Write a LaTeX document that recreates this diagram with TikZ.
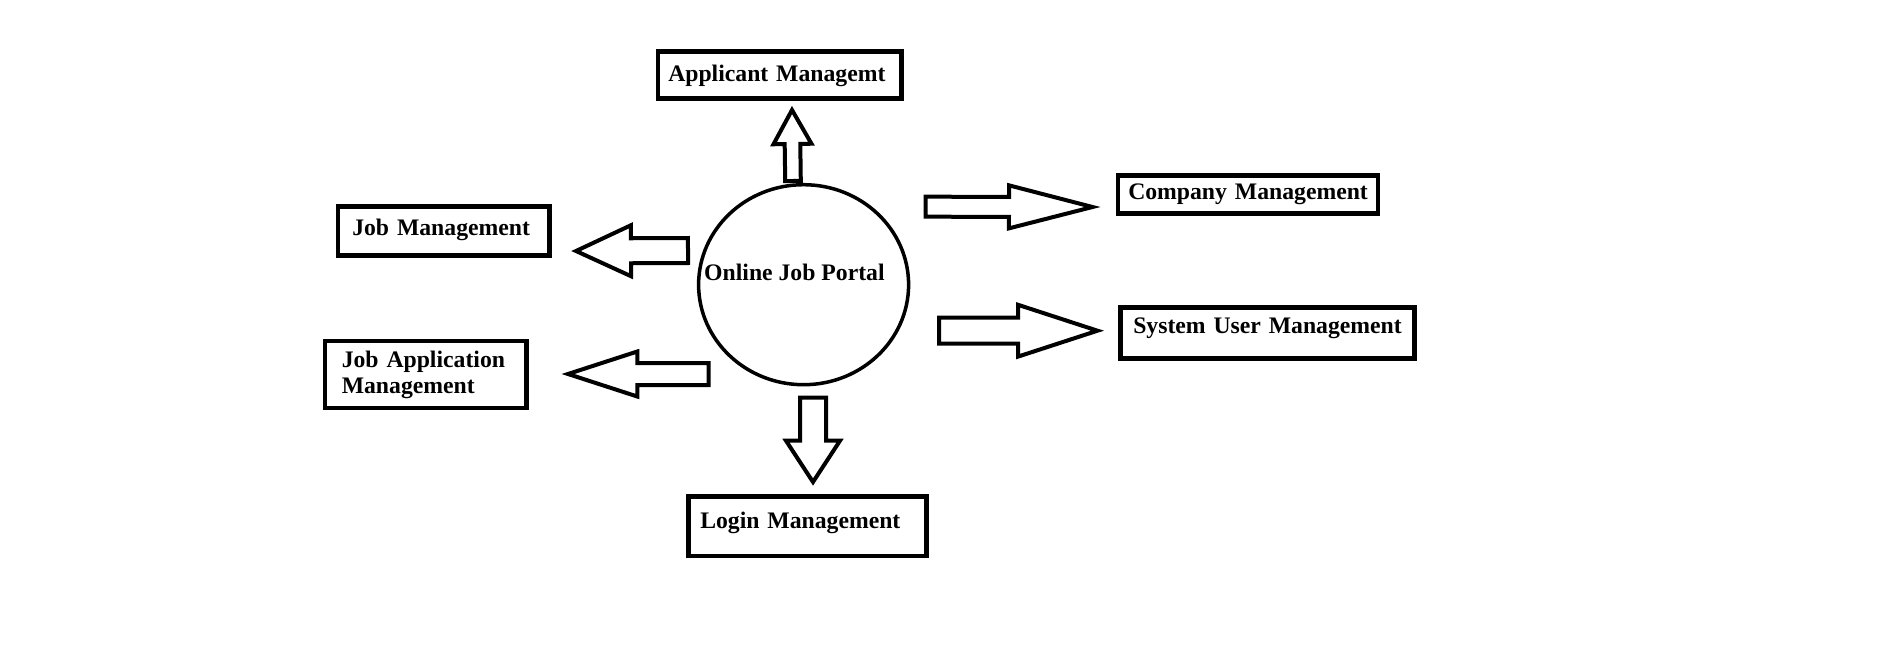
\documentclass[tikz,border=0pt]{standalone}
\usepackage{fontspec}
\setmainfont{Liberation Serif}
\usetikzlibrary{calc,shapes.geometric}
\tikzset{
  boxnode/.style={draw, line width=4.5pt, anchor=north west, align=left,
    inner ysep=0pt, font=\bfseries\fontsize{23.7}{26}\selectfont},
  labeltext/.style={font=\bfseries\fontsize{23.7}{26}\selectfont, inner sep=0pt},
  blockarrow/.style n args={3}{draw, line width=4pt, line join=miter,
    to path={let \p1=(\tikztostart), \p2=(\tikztotarget),
      \n1={atan2(\y2-\y1,\x2-\x1)}, \n2={veclen(\x2-\x1,\y2-\y1)} in
      ($(\p1)+(\n1+90:#1/2)$) -- ++(\n1:\n2-#3) -- ++(\n1+90:#2/2-#1/2) -- (\p2)
      -- ($(\p2)+(\n1+180:#3)+(\n1-90:#2/2)$) -- ++(\n1+90:#2/2-#1/2)
      -- ($(\p1)+(\n1-90:#1/2)$) -- cycle}}
}
\begin{document}
\begin{tikzpicture}[x=1pt,y=1pt]
\fill[white] (0,0) rectangle (1879,-648);
\useasboundingbox (0,0) rectangle (1879,-648);
\begin{scope}[shift={(-2,2)}]
% central ellipse
\node[draw, ellipse, line width=3.5pt, minimum width=210pt, minimum height=200pt, inner sep=0pt] (portal) at (805.6,-286.7) {};
\node[labeltext, anchor=base west] (portaltext) at (706,-282) {Online Job Portal};

% boxes
\node[boxnode, minimum width=243.5pt, minimum height=47pt, inner xsep=10.3pt, text width=222.9pt, text height=17pt, text depth=4pt]
  (app) at (657.7,-51) {\mbox{Applicant Managemt}};
\node[boxnode, minimum width=211.5pt, minimum height=49pt, inner xsep=14.3pt, text width=182.9pt, text height=16pt, text depth=7pt]
  (job) at (337.7,-206) {\mbox{Job Management}};
\node[boxnode, minimum width=201.2pt, minimum height=67pt, inner xsep=16.7pt, text width=167.8pt, yshift=2pt]
  (jobapp) at (324.8,-342.7) {\mbox{Job Application}\\\mbox{Management}};
\node[boxnode, minimum width=237.6pt, minimum height=59.7pt, inner xsep=11.6pt, text width=214.4pt, text height=15pt, text depth=10.7pt]
  (login) at (688.4,-496) {\mbox{Login Management}};
\node[boxnode, minimum width=259.8pt, minimum height=37.7pt, inner xsep=10.3pt, text width=239.2pt, text height=16pt, text depth=6.3pt]
  (company) at (1117.7,-175.3) {\mbox{Company Management}};
\node[boxnode, minimum width=294.3pt, minimum height=51pt, inner xsep=13pt, text width=268.3pt, text height=12pt, text depth=11pt]
  (system) at (1120,-307) {\mbox{System User Management}};

% arrow end points
\coordinate (upTail) at (795,-183);
\coordinate (upTip) at (794,-112);
\coordinate (jobTail) at (690,-252.5);
\coordinate (jobTip) at (578,-253);
\coordinate (jobappTail) at (710.5,-376);
\coordinate (jobappTip) at (570,-376);
\coordinate (downTail) at (815,-399.7);
\coordinate (downTip) at (815,-484);
\coordinate (compTail) at (927.7,-208.7);
\coordinate (compTip) at (1094.5,-209);
\coordinate (sysTail) at (941,-332.7);
\coordinate (sysTip) at (1099.5,-332.7);

% block arrows
\draw[blockarrow={15.6}{38}{34}] (upTail) to (upTip);
\draw[blockarrow={25}{51}{55}] (jobTail) to (jobTip);
\draw[blockarrow={22}{45}{69.3}] (jobappTail) to (jobappTip);
\draw[blockarrow={26}{54}{41.3}] (downTail) to (downTip);
\draw[blockarrow={20}{43}{83.5}] (compTail) to (compTip);
\draw[blockarrow={26}{51.7}{79.3}] (sysTail) to (sysTip);
\end{scope}
\end{tikzpicture}
\end{document}
